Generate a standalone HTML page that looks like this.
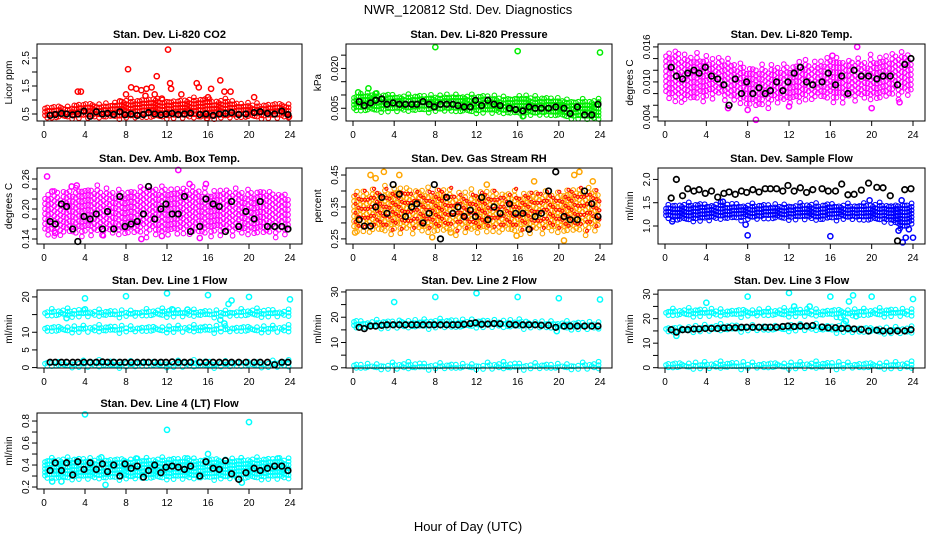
<!DOCTYPE html>
<html><head><meta charset="utf-8"><style>
html,body{margin:0;padding:0;background:#fff;}
svg{display:block;font-family:"Liberation Sans",sans-serif;}
</style></head><body>
<svg id="chart" width="936" height="540" viewBox="0 0 936 540" xmlns="http://www.w3.org/2000/svg">
<text x="468" y="14" text-anchor="middle" font-size="13">NWR_120812  Std. Dev. Diagnostics</text>
<text x="468" y="531" text-anchor="middle" font-size="13">Hour of Day (UTC)</text>
</svg>
<script>
const hoursBlack=[0.6,1.1,1.7,2.2,2.8,3.3,3.9,4.5,5.1,5.7,6.2,6.8,7.4,7.9,8.5,9.1,9.7,10.2,10.8,11.4,11.9,12.5,13.1,13.7,14.3,15.2,15.8,16.5,17.1,17.7,18.3,19.0,19.7,20.5,21.1,21.8,22.5,23.2,23.8];
const xTicks=[0,4,8,12,16,20,24];

const co2Lo=[0.4,0.4,0.42,0.42,0.42,0.42,0.42,0.42,0.42,0.42,0.42,0.42,0.42,0.42,0.42,0.42,0.42,0.42,0.42,0.42,0.42,0.42,0.42,0.42,0.42];
const co2Hi=[0.75,0.75,0.75,0.8,0.85,0.85,0.85,0.85,0.95,1.0,1.0,1.05,1.0,0.95,1.0,1.0,1.0,0.95,0.95,0.9,0.85,0.85,0.85,0.85,0.8];
const co2Out=[[3.3,1.3],[3.6,1.3],[8.2,2.1],[8.5,1.45],[9,1.4],[9.5,1.35],[10,1.4],[10.5,1.45],[11,1.85],[12.1,2.8],[12.3,1.6],[12.4,1.4],[13.4,1.2],[14.9,1.6],[15.1,1.45],[16.3,1.4],[17.2,1.7],[17.6,1.3],[15.9,0.35],[23.9,0.4],[8,1.2],[9.9,1.15],[10.8,1.2],[18.2,1.3],[20.5,1.1],[16,1.1],[11.5,1.05],[7.4,0.95]];
const co2Black=[0.45,0.48,0.52,0.5,0.47,0.5,0.6,0.42,0.58,0.5,0.52,0.48,0.58,0.47,0.5,0.45,0.48,0.55,0.5,0.47,0.5,0.52,0.48,0.5,0.53,0.48,0.5,0.45,0.5,0.52,0.55,0.48,0.5,0.55,0.58,0.52,0.5,0.6,0.48];

const presLo=[0.0045,0.0045,0.0045,0.0045,0.0045,0.0045,0.0045,0.0045,0.0045,0.0045,0.0042,0.004,0.004,0.004,0.0038,0.0035,0.0033,0.003,0.003,0.0028,0.0025,0.002,0.0018,0.0015,0.0015];
const presHi=[0.0095,0.0105,0.0105,0.0098,0.0098,0.0095,0.0095,0.0095,0.0098,0.0098,0.0098,0.0095,0.0095,0.0095,0.0092,0.009,0.009,0.0092,0.009,0.0088,0.0085,0.008,0.0078,0.0078,0.0075];
const presOut=[[8,0.028],[16,0.0265],[24,0.026],[1.5,0.0125],[0.5,0.011],[2.2,0.0105],[16.5,0.002]];
const presBlack=[7.5,6,7,8,8.5,6.5,7,6.5,6.5,6.5,6.5,7.5,6.5,5.5,6.5,6.5,6.5,6,5.5,5.5,8,6,8,6.5,6,5,4.5,4,5.5,5,5,5,5.5,5,3,5.5,2.5,2.5,6.5].map(v=>v/1000);

const tmpLo=[0.008,0.007,0.007,0.0075,0.0075,0.008,0.0075,0.007,0.0065,0.006,0.0065,0.007,0.007,0.007,0.0075,0.0075,0.0075,0.007,0.0075,0.0075,0.0075,0.0075,0.008,0.008,0.0085];
const tmpHi=[0.0145,0.015,0.0145,0.014,0.014,0.0135,0.0135,0.013,0.0125,0.012,0.0125,0.0125,0.0125,0.013,0.013,0.0135,0.014,0.0135,0.0135,0.0135,0.014,0.014,0.0145,0.0145,0.0145];
const tmpOut=[[8.8,0.0035],[8,0.0052],[6.1,0.0055],[20,0.0055],[18.6,0.016],[12,0.0058],[22.7,0.0065],[16.2,0.0145]];
const tmpBlack=[12.5,11,10.5,11.5,12,11.5,12.5,11,10.5,9.5,6,10.5,8,10,8,9,8,8.5,10,8.5,10,11.5,12.5,10,9.5,10,11.5,9.5,11,8,12,11,11,10.5,11,11,9.5,13,14].map(v=>v/1000);

const ambLo=[0.155,0.15,0.155,0.155,0.155,0.155,0.155,0.155,0.155,0.155,0.155,0.155,0.155,0.155,0.155,0.155,0.155,0.155,0.155,0.155,0.155,0.155,0.155,0.155,0.155];
const ambHi=[0.225,0.23,0.235,0.24,0.24,0.24,0.235,0.235,0.235,0.235,0.24,0.24,0.24,0.24,0.24,0.235,0.235,0.235,0.235,0.235,0.235,0.235,0.23,0.23,0.23];
const ambOut=[[0.3,0.265],[13.1,0.278],[9.5,0.14],[11.5,0.146],[15.2,0.142],[5.7,0.148],[1.1,0.152],[14.2,0.25],[15.8,0.25],[0.8,0.235],[2.7,0.245],[3.2,0.247]];
const ambBlack=[0.175,0.17,0.21,0.205,0.16,0.135,0.185,0.18,0.19,0.16,0.195,0.16,0.225,0.165,0.17,0.175,0.19,0.245,0.18,0.2,0.21,0.19,0.19,0.225,0.155,0.165,0.22,0.21,0.205,0.155,0.215,0.165,0.195,0.18,0.215,0.165,0.165,0.165,0.16];

const rhLo=[0.28,0.28,0.28,0.28,0.28,0.28,0.28,0.28,0.28,0.28,0.28,0.28,0.28,0.28,0.28,0.28,0.28,0.28,0.28,0.28,0.28,0.28,0.28,0.28,0.29];
const rhHi=[0.39,0.39,0.4,0.4,0.4,0.4,0.4,0.4,0.4,0.4,0.39,0.39,0.39,0.39,0.39,0.39,0.39,0.39,0.39,0.39,0.39,0.4,0.4,0.4,0.4];
const rhOut=[[3,0.46],[4.5,0.45],[1.7,0.45],[2.2,0.44],[0.2,0.27],[22,0.46],[21.5,0.45],[20.5,0.245],[17.6,0.43],[23.3,0.43],[7.7,0.255],[15.9,0.26],[13,0.42],[9.5,0.27]];
const rhBlack=[0.31,0.29,0.29,0.35,0.38,0.33,0.42,0.39,0.32,0.35,0.36,0.3,0.33,0.42,0.25,0.38,0.33,0.35,0.32,0.34,0.32,0.38,0.31,0.35,0.33,0.36,0.33,0.33,0.28,0.32,0.33,0.4,0.46,0.32,0.31,0.31,0.4,0.36,0.32];

const sfLo=[1.2,1.15,1.15,1.15,1.15,1.18,1.18,1.18,1.18,1.18,1.18,1.18,1.18,1.18,1.18,1.15,1.18,1.18,1.18,1.15,1.15,1.15,1.1,0.95,1.1];
const sfHi=[1.42,1.45,1.45,1.45,1.45,1.45,1.45,1.45,1.45,1.45,1.45,1.45,1.45,1.45,1.45,1.45,1.45,1.45,1.45,1.45,1.45,1.45,1.45,1.45,1.45];
const sfOut=[[8,0.8],[16,0.78],[24,0.75],[22.6,0.9],[23,0.65],[23.3,0.75],[7.8,1.03],[19.8,1.55],[5.6,1.52],[0.7,1.1],[22.9,1.55],[23.6,0.93]];
const sfBlack=[1.6,2.0,1.65,1.8,1.75,1.78,1.7,1.75,1.62,1.7,1.73,1.68,1.75,1.72,1.78,1.73,1.8,1.8,1.8,1.75,1.87,1.75,1.82,1.72,1.78,1.8,1.75,1.75,1.9,1.67,1.68,1.77,1.92,1.83,1.82,1.65,0.68,1.78,1.8];

const l1aLo=Array(25).fill(15.0), l1aHi=Array(25).fill(16.0);
const l1bLo=Array(25).fill(10.6), l1bHi=Array(25).fill(11.4);
const l1cLo=Array(25).fill(0.7), l1cHi=Array(25).fill(1.4);
const l1Out=[[4,19.6],[8,20.2],[12,21],[16,20.5],[20,20],[24,19.3],[4,16.5],[17.2,13.5],[17.6,12.5],[18,18],[18.3,19],[2.2,14],[12.5,16.5],[14,16.4]];
const l1Black=[1.5,1.5,1.5,1.5,1.5,1.5,1.5,1.5,1.5,1.6,1.5,1.5,1.5,1.5,1.5,1.5,1.5,1.5,1.5,1.5,1.5,1.6,1.5,1.5,1.5,1.5,1.5,1.5,1.5,1.5,1.5,1.5,1.5,1.5,1.5,1.5,0.8,1.5,1.5];

const l2aLo=[16.2,16.2,16.5,16.5,16.5,16.5,16.5,16.5,16.5,16.5,16.5,16.5,16.8,16.8,16.8,16.5,16.5,16.5,16.5,16.3,16,16,16,16,16];
const l2aHi=[18.2,18.2,18.2,18.3,18.4,18.5,18.5,18.5,18.5,18.5,18.5,18.5,18.6,18.6,18.6,18.5,18.3,18.2,18,18,17.8,17.6,17.5,17.5,17.5];
const l2bLo=Array(25).fill(0.3), l2bHi=Array(25).fill(1.3);
const l2Out=[[4,26],[8,28],[12,29.5],[16,28],[20,27.5],[24,27],[19.8,14.5]];
const l2Black=[16,15.5,16.5,16.5,16.8,17,17,17,17,17,17,17,17,17,17,17,17,17,17.2,17.5,17.8,17.2,17.3,17.5,17.4,17.2,17,17,17,17,16.8,16.8,16,16.5,16.5,16.5,16.5,16.5,16.5];

const l3aLo=Array(25).fill(21.8), l3aHi=Array(25).fill(23.5);
const l3bLo=[15.2,15,15.3,15.5,15.7,15.8,15.8,15.8,15.8,15.8,15.8,15.8,15.8,16,16,15.8,15.5,15.2,15,15,14.8,14.8,14.8,14.8,14.8];
const l3bHi=[16.5,16.3,16.5,16.6,16.8,16.8,16.8,16.8,16.8,16.8,16.8,16.8,17,17.3,17.3,17,16.8,16.5,16.2,16,16,16,16,15.8,15.8];
const l3cLo=Array(25).fill(0.5), l3cHi=Array(25).fill(1.6);
const l3Out=[[4,26.5],[8,29],[12,30.5],[16,29],[18.2,29.5],[17.8,27],[20,29],[24,28],[17.3,18],[17.5,19],[1.1,13],[12.5,25],[14,25],[17,20.5],[18.5,21]];
const l3Black=[15.5,14.5,15.5,15.5,15.8,15.8,16,16,16,16.2,16.3,16.3,16.5,16.5,16.5,16.5,16.5,16.5,16.5,16.8,17,16.8,17,17,17.2,16.6,16.3,16.3,16,16,15.8,15.6,15,15.3,15,15,15,15,15.5];

const l4Lo=Array(25).fill(0.29), l4Hi=Array(25).fill(0.45);
const l4Out=[[4,0.86],[12,0.72],[20,0.79],[6,0.22],[16,0.5],[0.8,0.25],[19.3,0.24],[1.7,0.25],[14,0.46],[22.8,0.46],[9,0.46],[5.6,0.47]];
const l4Black=[0.35,0.42,0.35,0.42,0.31,0.43,0.36,0.42,0.36,0.41,0.34,0.4,0.3,0.41,0.37,0.39,0.29,0.35,0.4,0.33,0.38,0.39,0.38,0.36,0.39,0.3,0.43,0.37,0.36,0.44,0.32,0.27,0.33,0.37,0.35,0.37,0.39,0.39,0.35];

const NS="http://www.w3.org/2000/svg";
const svg=document.getElementById('chart');
const colL=[37,346,658], colR=[302,612,925];
const rowT=[44,168,290,413], rowB=[121,244,368,489];

function mk(tag,attrs,parent){const e=document.createElementNS(NS,tag);for(const k in attrs)e.setAttribute(k,attrs[k]);(parent||svg).appendChild(e);return e;}

const panels=[
 {c:0,r:0,name:'co2',title:'Stan. Dev. Li-820 CO2',ylab:'Licor ppm',dom:[0.25,3.0],ticks:[0.5,1,1.5,2,2.5],labs:{'0.5':'0.5','1.5':'1.5','2.5':'2.5'},bands:[[co2Lo,co2Hi,'#ff0000']],out:co2Out,oc:'#ff0000',black:co2Black,sp:0},
 {c:1,r:0,name:'pressure',title:'Stan. Dev. Li-820 Pressure',ylab:'kPa',dom:[0.0002,0.0292],ticks:[0.005,0.01,0.015,0.02,0.025],labs:{'0.005':'0.005','0.02':'0.020'},bands:[[presLo,presHi,'#00ee00']],out:presOut,oc:'#00ee00',black:presBlack,sp:0},
 {c:2,r:0,name:'temp',title:'Stan. Dev. Li-820 Temp.',ylab:'degrees C',dom:[0.0033,0.0165],ticks:[0.004,0.006,0.008,0.01,0.012,0.014,0.016],labs:{'0.004':'0.004','0.01':'0.010','0.016':'0.016'},bands:[[tmpLo,tmpHi,'#ff00ff']],out:tmpOut,oc:'#ff00ff',black:tmpBlack,sp:1},
 {c:0,r:1,name:'amb-box-temp',title:'Stan. Dev. Amb. Box Temp.',ylab:'degrees C',dom:[0.13,0.282],ticks:[0.14,0.16,0.18,0.2,0.22,0.24,0.26],labs:{'0.14':'0.14','0.2':'0.20','0.26':'0.26'},bands:[[ambLo,ambHi,'#ff00ff']],out:ambOut,oc:'#ff00ff',black:ambBlack,sp:1},
 {c:1,r:1,name:'gas-rh',title:'Stan. Dev. Gas Stream RH',ylab:'percent',dom:[0.234,0.472],ticks:[0.25,0.3,0.35,0.4,0.45],labs:{'0.25':'0.25','0.35':'0.35','0.45':'0.45'},bands:[[rhLo,rhHi,'#ffa500'],[rhLo,rhHi,'#ff0000',1]],out:rhOut,oc:'#ffa500',black:rhBlack,sp:1},
 {c:2,r:1,name:'sample-flow',title:'Stan. Dev. Sample Flow',ylab:'ml/min',dom:[0.614,2.245],ticks:[1,1.5,2],labs:{'1':'1.0','1.5':'1.5','2':'2.0'},bands:[[sfLo,sfHi,'#0000ff']],out:sfOut,oc:'#0000ff',black:sfBlack,sp:0},
 {c:0,r:2,name:'line1-flow',title:'Stan. Dev. Line 1 Flow',ylab:'ml/min',dom:[-0.12,21.96],ticks:[0,5,10,15,20],labs:{'0':'0','5':'5','10':'10','20':'20'},bands:[[l1aLo,l1aHi,'#00ffff'],[l1bLo,l1bHi,'#00ffff'],[l1cLo,l1cHi,'#00ffff']],out:l1Out,oc:'#00ffff',black:l1Black,sp:0},
 {c:1,r:2,name:'line2-flow',title:'Stan. Dev. Line 2 Flow',ylab:'ml/min',dom:[-0.08,30.77],ticks:[0,5,10,15,20,25,30],labs:{'0':'0','10':'10','20':'20','30':'30'},bands:[[l2aLo,l2aHi,'#00ffff'],[l2bLo,l2bHi,'#00ffff']],out:l2Out,oc:'#00ffff',black:l2Black,sp:0},
 {c:2,r:2,name:'line3-flow',title:'Stan. Dev. Line 3 Flow',ylab:'ml/min',dom:[-0.13,31.7],ticks:[0,5,10,15,20,25,30],labs:{'0':'0','10':'10','20':'20','30':'30'},bands:[[l3aLo,l3aHi,'#00ffff'],[l3bLo,l3bHi,'#00ffff'],[l3cLo,l3cHi,'#00ffff']],out:l3Out,oc:'#00ffff',black:l3Black,sp:0},
 {c:0,r:3,name:'line4-flow',title:'Stan. Dev. Line 4 (LT) Flow',ylab:'ml/min',dom:[0.182,0.873],ticks:[0.2,0.3,0.4,0.5,0.6,0.7,0.8],labs:{'0.2':'0.2','0.4':'0.4','0.6':'0.6','0.8':'0.8'},bands:[[l4Lo,l4Hi,'#00ffff']],out:l4Out,oc:'#00ffff',black:l4Black,sp:0}
];

function interp(arr,h){const i=Math.min(23,Math.floor(h));const f=h-i;return arr[i]*(1-f)+arr[i+1]*f;}
const jag=[0,3,-2,5,1,-3,4,-1,2,-4,6,0,-2,3];

panels.forEach(p=>{
  const L=colL[p.c],R=colR[p.c],T=rowT[p.r],B=rowB[p.r];
  const x0=L+7,x1=R-12;
  const sx=h=>x0+(x1-x0)*h/24;
  const sy=v=>B-(v-p.dom[0])/(p.dom[1]-p.dom[0])*(B-T);
  const g=mk('g',{});
  
  
  const t=mk('text',{x:(L+R)/2,y:T-6,'text-anchor':'middle','font-size':'11','font-weight':'bold'},g);
  t.textContent=p.title;
  
  
  const yl=mk('text',{x:0,y:0,'text-anchor':'middle','font-size':'10',transform:`translate(${L-25},${(T+B)/2}) rotate(-90)`},g);
  yl.textContent=p.ylab;
  
  
  const dg=mk('g',{fill:'none'},g);
  
  
  p.bands.forEach(b=>{
    const [lo,hi,col,off]=b;
    const xs=p.sp?0.3:0.22, ys=p.sp?(off?9:5):3.4;
    let k=0;
    for(let h=0.1;h<=23.95;h+=xs,k++){
      let yTop=sy(interp(hi,h)),yBot=sy(interp(lo,h));
      const amp=p.sp?1:0.5;
      yTop-=jag[k%jag.length]*amp; yBot+=jag[(k+5)%jag.length]*amp;
      const st=((k*7)%3)*ys/3+(off?ys/2:0);
      for(let y=yBot-st;y>=yTop;y-=ys){
        mk('circle',{cx:(sx(h)+(off?1.5:0)).toFixed(1),cy:y.toFixed(1),r:off?1.6:2.3,stroke:col,'stroke-width':off?1:1.1},dg);
      }
    }
  });
  p.out.forEach(o=>{
    const c=mk('circle',{cx:sx(o[0]),cy:sy(o[1]),r:2.6,stroke:p.oc,'stroke-width':1.5},dg);
    
    
  });
  p.black.forEach((v,i)=>{
    const c=mk('circle',{cx:sx(hoursBlack[i]),cy:sy(v),r:2.8,stroke:'#000','stroke-width':1.7},dg);
    
    
  });
  const box=mk('rect',{x:L,y:T,width:R-L,height:B-T,fill:'none',stroke:'#000','stroke-width':1},g);
  
  
  xTicks.forEach(h=>{
    mk('line',{x1:sx(h),x2:sx(h),y1:B,y2:B+5,stroke:'#000'},g);
    const tl=mk('text',{x:sx(h),y:B+17,'text-anchor':'middle','font-size':'10'},g);
    tl.textContent=h;
    
    
  });
  p.ticks.forEach(v=>{
    const y=sy(v);
    mk('line',{x1:L-5,x2:L,y1:y,y2:y,stroke:'#000'},g);
    const key=String(+v.toFixed(4));
    if(p.labs[key]!==undefined){
      const tl=mk('text',{x:0,y:0,'text-anchor':'middle','font-size':'10',transform:`translate(${L-8},${y}) rotate(-90)`},g);
      tl.textContent=p.labs[key];
      
      
    }
  });
});
</script>
</body></html>
